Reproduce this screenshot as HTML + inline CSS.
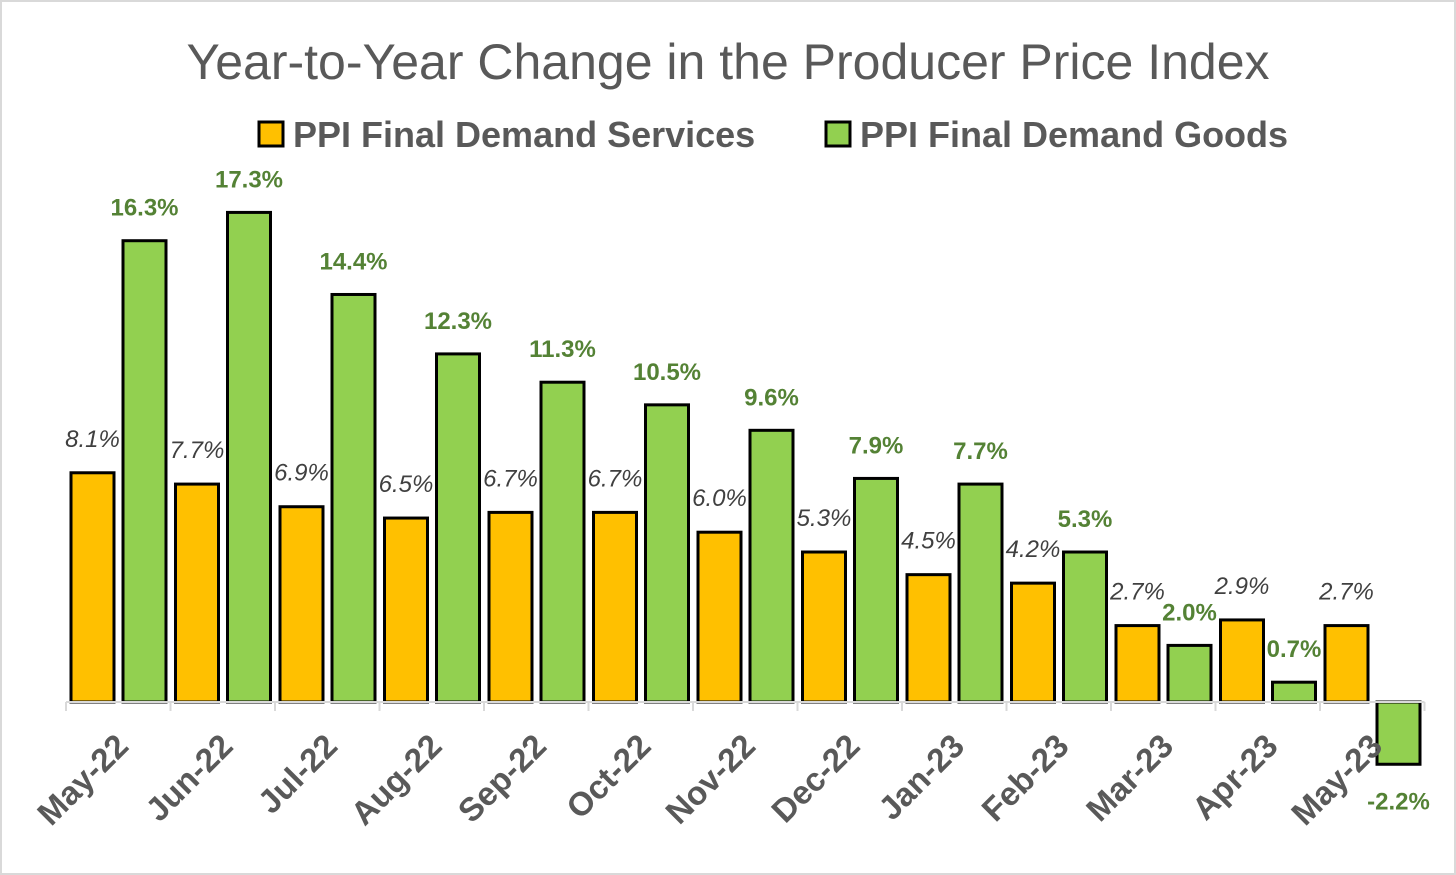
<!DOCTYPE html>
<html><head><meta charset="utf-8">
<style>
body{margin:0;background:#fff;}
svg{display:block;font-family:"Liberation Sans",Calibri,sans-serif;}
</style></head>
<body>
<svg id="chart" width="1456" height="875">
<rect x="1" y="1" width="1454" height="873" fill="#fff" stroke="#d9d9d9" stroke-width="2"/>
<text x="728" y="79" text-anchor="middle" font-size="50" fill="#595959">Year-to-Year Change in the Producer Price Index</text>
<g>
<g>
<rect x="259" y="122" width="24" height="24" fill="#ffc000" stroke="#000" stroke-width="3"/>
<text x="293" y="147" font-size="36" font-weight="bold" fill="#595959">PPI Final Demand Services</text>
</g>
<g>
<rect x="826" y="122" width="24" height="24" fill="#92d050" stroke="#000" stroke-width="3"/>
<text x="860" y="147" font-size="36" font-weight="bold" fill="#595959">PPI Final Demand Goods</text>
</g>
</g>
<g id="plot"></g>
</svg>
<script>
const categories=["May-22","Jun-22","Jul-22","Aug-22","Sep-22","Oct-22","Nov-22","Dec-22","Jan-23","Feb-23","Mar-23","Apr-23","May-23"];
const services=[8.1,7.7,6.9,6.5,6.7,6.7,6.0,5.3,4.5,4.2,2.7,2.9,2.7];
const goods=[16.3,17.3,14.4,12.3,11.3,10.5,9.6,7.9,7.7,5.3,2.0,0.7,-2.2];
const ns="http://www.w3.org/2000/svg";
const plot=document.getElementById("plot");
const x0=66,groupW=104.5,barW=43;
const zeroY=702,pxPer=28.3;
function y(v){return zeroY-v*pxPer;}
function gx(i){return x0+i*groupW;}
function mk(tag,attrs){const e=document.createElementNS(ns,tag);for(const k in attrs)e.setAttribute(k,attrs[k]);plot.appendChild(e);return e;}
categories.forEach((c,i)=>{
  const sx=gx(i)+5, gxx=gx(i)+57;
  const s=services[i], g=goods[i];
  const rs=mk("rect",{x:sx,y:Math.min(y(s),zeroY),width:barW,height:Math.abs(y(s)-zeroY),fill:"#ffc000",stroke:"#000","stroke-width":3});
  
  
  const rg=mk("rect",{x:gxx,y:Math.min(y(g),zeroY),width:barW,height:Math.abs(y(g)-zeroY),fill:"#92d050",stroke:"#000","stroke-width":3});
  
  
  const ls=mk("text",{x:sx+barW/2,y:y(s)-26,"text-anchor":"middle","font-size":24,"font-style":"italic",fill:"#404040"});
  ls.textContent=s.toFixed(1)+"%";
  
  
  const gy=g>=0?y(g)-25:y(g)+45;
  const lg=mk("text",{x:gxx+barW/2,y:gy,"text-anchor":"middle","font-size":24,"font-weight":"bold",fill:"#548235"});
  lg.textContent=g.toFixed(1)+"%";
  
  
  const cx=gx(i)+groupW/2+12, cy=748;
  const xl=mk("text",{x:cx,y:cy,"text-anchor":"end","font-size":33,"font-weight":"bold",fill:"#595959",transform:`rotate(-45 ${cx} ${cy})`});
  xl.textContent=c;
  
  
});
for(let i=0;i<=categories.length;i++){
  const t=mk("line",{x1:gx(i),x2:gx(i),y1:zeroY,y2:zeroY+9,stroke:"#d9d9d9","stroke-width":2});
  
  
}
const ax=mk("line",{x1:x0,x2:gx(categories.length),y1:zeroY,y2:zeroY,stroke:"#d9d9d9","stroke-width":2});


</script>
</body></html>
